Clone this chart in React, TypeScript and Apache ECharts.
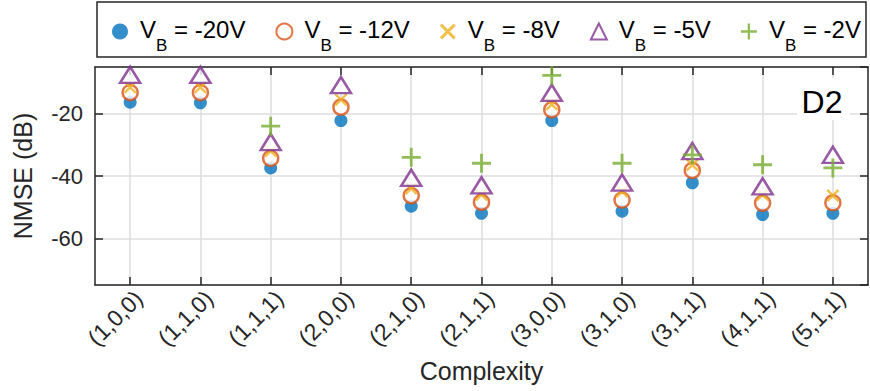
import React, { useEffect, useRef } from "react";
import * as echarts from "echarts";

const categories = ["(1,0,0)", "(1,1,0)", "(1,1,1)", "(2,0,0)", "(2,1,0)", "(2,1,1)", "(3,0,0)", "(3,1,0)", "(3,1,1)", "(4,1,1)", "(5,1,1)"];
const seriesNames = ["-20V", "-12V", "-8V", "-5V", "-2V"];
const vbMinus20 = [-16.3, -16.5, -37.4, -22.2, -49.7, -52.0, -22.2, -51.3, -42.2, -52.4, -52.0];
const vbMinus12 = [-13.2, -13.2, -34.3, -17.9, -46.3, -48.4, -18.7, -47.7, -38.2, -48.7, -48.6];
const vbMinus8 = [-11.5, -11.5, -32.0, -15.5, -44.0, -46.0, -17.0, -45.0, -36.5, -46.0, -46.3];
const vbMinus5 = [-7.5, -7.5, -29.1, -10.8, -40.6, -43.0, -13.3, -42.1, -32.0, -43.3, -33.2];
const vbMinus2: (number | null)[] = [null, null, -24.0, null, -34.0, -35.9, -7.7, -35.9, -33.2, -36.4, -37.4];
const yTicks = [-60, -40, -20];

const FONT = "Liberation Sans";
const AXIS_COLOR = "#262626";
const GRID_COLOR = "#dedede";
const PLUS = "path://M0,8.5H8.5V0H11.5V8.5H20V11.5H11.5V20H8.5V11.5H0Z";
const CROSS = "path://M0,2.7L2.7,0L10,7.3L17.3,0L20,2.7L12.7,10L20,17.3L17.3,20L10,12.7L2.7,20L0,17.3L7.3,10Z";

export default function App() {
  const ref = useRef<HTMLDivElement>(null);
  useEffect(() => {
    if (!ref.current) return;
    const chart = echarts.init(ref.current, null, { renderer: "svg" });
    const toData = (arr: (number | null)[]) => arr.map((v) => (v === null ? "-" : v));
    const option: any = {
      animation: false,
      backgroundColor: "#fff",
      textStyle: { fontFamily: FONT },
      grid: { left: 95, right: 2, top: 67, bottom: 106, containLabel: false },
      graphic: [
        {
          type: "rect",
          z: 1,
          shape: { x: 97, y: 2, width: 769, height: 55 },
          style: { fill: "#fff", stroke: AXIS_COLOR, lineWidth: 1.5 },
        },
        {
          type: "rect",
          z: 10,
          shape: { x: 797, y: 78, width: 53, height: 42 },
          style: { fill: "#fff" },
        },
        {
          type: "text",
          z: 11,
          x: 822,
          y: 102,
          style: { text: "D2", fontSize: 32, fontFamily: FONT, fill: "#000", align: "center", verticalAlign: "middle" },
        },
      ],
      legend: {
        left: 112,
        top: 17,
        padding: 0,
        itemWidth: 16,
        itemHeight: 16,
        itemGap: 30,
        z: 5,
        data: seriesNames,
        formatter: (name: string) => `{a|V}{b|B}{c| = ${name}}`,
        textStyle: {
          color: "#000",
          rich: {
            a: { fontSize: 24, fontFamily: FONT, color: "#000", padding: [0, 0, 5, 7] },
            b: { fontSize: 17, fontFamily: FONT, color: "#000", padding: [27, 0, 0, 0] },
            c: { fontSize: 24, fontFamily: FONT, color: "#000", padding: [0, 0, 5, 0] },
          },
        },
      },
      xAxis: [
        {
          type: "category",
          data: categories,
          boundaryGap: true,
          name: "Complexity",
          nameLocation: "middle",
          nameGap: 73,
          nameTextStyle: { fontSize: 25, color: AXIS_COLOR, fontFamily: FONT },
          axisLine: { show: true, lineStyle: { color: AXIS_COLOR, width: 1.5 } },
          axisTick: { show: true, inside: true, alignWithLabel: true, length: 8, lineStyle: { color: AXIS_COLOR, width: 1.5 } },
          axisLabel: { interval: 0, rotate: 45, fontSize: 23, color: AXIS_COLOR, margin: 18, padding: [0, -12, 0, 0], fontFamily: FONT },
          splitLine: { show: true, alignWithLabel: true, lineStyle: { color: GRID_COLOR, width: 1.5 } },
        },
        {
          type: "category",
          data: categories,
          position: "top",
          boundaryGap: true,
          axisLine: { show: true, lineStyle: { color: AXIS_COLOR, width: 1.5 } },
          axisTick: { show: true, inside: true, alignWithLabel: true, length: 8, lineStyle: { color: AXIS_COLOR, width: 1.5 } },
          axisLabel: { show: false },
          splitLine: { show: false },
        },
      ],
      yAxis: [
        {
          type: "value",
          min: -75,
          max: -5,
          splitNumber: 3,
          name: "NMSE (dB)",
          nameLocation: "middle",
          nameRotate: 90,
          nameGap: 60,
          nameTextStyle: { fontSize: 25, color: AXIS_COLOR, fontFamily: FONT },
          axisLine: { show: true, lineStyle: { color: AXIS_COLOR, width: 1.5 } },
          axisTick: { show: true, inside: true, length: 8, lineStyle: { color: AXIS_COLOR, width: 1.5 } },
          axisLabel: {
            fontSize: 22,
            color: AXIS_COLOR,
            margin: 12,
            fontFamily: FONT,
            showMinLabel: false,
            showMaxLabel: false,
            formatter: (v: number) => (yTicks.includes(v) ? String(v) : ""),
          },
          splitLine: { show: true, lineStyle: { color: GRID_COLOR, width: 1.5 } },
        },
        {
          type: "value",
          min: -75,
          max: -5,
          splitNumber: 3,
          position: "right",
          axisLine: { show: true, lineStyle: { color: AXIS_COLOR, width: 1.5 } },
          axisTick: { show: true, inside: true, length: 8, lineStyle: { color: AXIS_COLOR, width: 1.5 } },
          axisLabel: { show: false },
          splitLine: { show: false },
        },
      ],
      series: [
        {
          name: seriesNames[0],
          type: "scatter",
          data: toData(vbMinus20),
          symbol: "circle",
          symbolSize: 13,
          itemStyle: { color: "#0072BD" },
          z: 2,
        },
        {
          name: seriesNames[1],
          type: "scatter",
          data: toData(vbMinus12),
          symbol: "circle",
          symbolSize: 15,
          itemStyle: { color: "#ffffff", borderColor: "#D95319", borderWidth: 2.5 },
          z: 3,
        },
        {
          name: seriesNames[2],
          type: "scatter",
          data: toData(vbMinus8),
          symbol: CROSS,
          symbolSize: 13,
          itemStyle: { color: "#EDB120" },
          z: 4,
        },
        {
          name: seriesNames[3],
          type: "scatter",
          data: toData(vbMinus5),
          symbol: "triangle",
          symbolSize: [20, 16],
          itemStyle: { color: "#ffffff", borderColor: "#7E2F8E", borderWidth: 2.5 },
          z: 5,
        },
        {
          name: seriesNames[4],
          type: "scatter",
          data: toData(vbMinus2),
          symbol: PLUS,
          symbolSize: 19,
          itemStyle: { color: "#77AC30" },
          z: 6,
        },
      ],
    };
    chart.setOption(option);
    return () => chart.dispose();
  }, []);
  return <div ref={ref} style={{ position: "fixed", left: 0, top: 0, width: 870, height: 391 }} />;
}
